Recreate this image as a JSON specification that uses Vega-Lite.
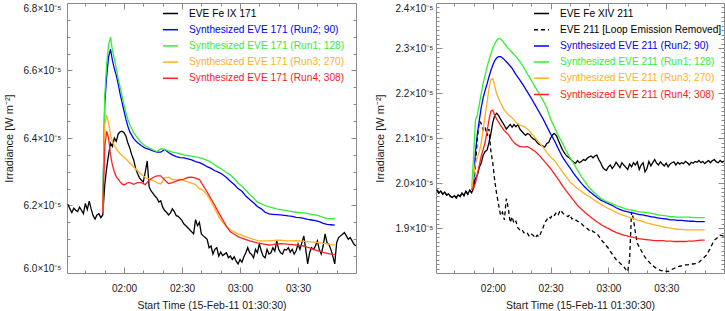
{
"$schema": "https://vega.github.io/schema/vega-lite/v6.json",
"padding": {"left": 3, "top": 2, "right": 2, "bottom": 2},
"spacing": 15,
"config": {
 "font": "Liberation Sans",
 "view": {"stroke": null},
 "axis": {"grid": false, "domainColor": "#8a8a8a", "tickColor": "#8a8a8a", "labelColor": "#1a1a1a", "titleColor": "#1a1a1a", "labelFontSize": 10, "titleFontSize": 10.5, "titleFontWeight": "normal", "labelFont": "Liberation Sans", "titleFont": "Liberation Sans"}
},
"hconcat": [
{
 "width": 289, "height": 270,
 "data": {"format": {"parse": {"t": "date:'%H:%M'"}}, "values": [
{"t":"01:31","obs":6.204e-5},
{"t":"01:32","obs":6.19e-5},
{"t":"01:33","obs":6.179e-5},
{"t":"01:34","obs":6.192e-5},
{"t":"01:35","obs":6.186e-5},
{"t":"01:36","obs":6.182e-5},
{"t":"01:37","obs":6.195e-5},
{"t":"01:38","obs":6.186e-5},
{"t":"01:39","obs":6.176e-5},
{"t":"01:40","obs":6.206e-5},
{"t":"01:41","obs":6.188e-5},
{"t":"01:42","obs":6.213e-5},
{"t":"01:43","obs":6.19e-5},
{"t":"01:44","obs":6.17e-5},
{"t":"01:45","obs":6.16e-5},
{"t":"01:46","obs":6.172e-5},
{"t":"01:47","obs":6.176e-5},
{"t":"01:48","obs":6.164e-5},
{"t":"01:49","obs":6.172e-5,"run2":6.18e-5,"run1":6.18e-5,"run3":6.18e-5,"run4":6.18e-5},
{"t":"01:50","obs":6.26e-5,"run2":6.5e-5,"run1":6.52e-5,"run3":6.44e-5,"run4":6.37e-5},
{"t":"01:51","obs":6.31e-5,"run2":6.58e-5,"run1":6.62e-5,"run3":6.468e-5,"run4":6.42e-5},
{"t":"01:52","obs":6.35e-5,"run2":6.64e-5,"run1":6.675e-5,"run3":6.445e-5,"run4":6.4e-5},
{"t":"01:53","obs":6.385e-5,"run2":6.663e-5,"run1":6.699e-5,"run3":6.41e-5,"run4":6.35e-5},
{"t":"01:54","obs":6.375e-5,"run2":6.63e-5,"run1":6.66e-5,"run3":6.39e-5,"run4":6.32e-5},
{"t":"01:55","obs":6.4e-5,"run2":6.605e-5,"run1":6.635e-5,"run3":6.377e-5,"run4":6.3e-5},
{"t":"01:56","obs":6.39e-5,"run2":6.585e-5,"run1":6.605e-5,"run3":6.368e-5,"run4":6.285e-5},
{"t":"01:57","obs":6.412e-5,"run2":6.56e-5,"run1":6.575e-5,"run3":6.36e-5,"run4":6.278e-5},
{"t":"01:58","obs":6.418e-5,"run2":6.53e-5,"run1":6.55e-5,"run3":6.354e-5,"run4":6.27e-5},
{"t":"01:59","obs":6.42e-5,"run2":6.505e-5,"run1":6.525e-5,"run3":6.348e-5,"run4":6.264e-5},
{"t":"02:00","obs":6.416e-5,"run2":6.48e-5,"run1":6.498e-5,"run3":6.343e-5,"run4":6.261e-5},
{"t":"02:01","obs":6.405e-5,"run2":6.455e-5,"run1":6.475e-5,"run3":6.338e-5,"run4":6.264e-5},
{"t":"02:02","obs":6.385e-5,"run2":6.435e-5,"run1":6.455e-5,"run3":6.332e-5,"run4":6.268e-5},
{"t":"02:03","obs":6.37e-5,"run2":6.418e-5,"run1":6.44e-5,"run3":6.326e-5,"run4":6.268e-5},
{"t":"02:04","obs":6.35e-5},
{"t":"02:05","obs":6.335e-5,"run2":6.398e-5,"run1":6.415e-5,"run3":6.314e-5,"run4":6.263e-5},
{"t":"02:06","obs":6.31e-5},
{"t":"02:07","obs":6.295e-5,"run2":6.386e-5,"run1":6.4e-5,"run3":6.303e-5,"run4":6.268e-5},
{"t":"02:08","obs":6.282e-5},
{"t":"02:09","obs":6.275e-5,"run2":6.377e-5,"run1":6.385e-5,"run3":6.292e-5,"run4":6.268e-5},
{"t":"02:10","obs":6.27e-5},
{"t":"02:11","obs":6.3e-5,"run2":6.37e-5,"run1":6.377e-5,"run3":6.283e-5,"run4":6.262e-5},
{"t":"02:12","obs":6.332e-5},
{"t":"02:13","obs":6.255e-5,"run2":6.366e-5,"run1":6.371e-5,"run3":6.278e-5,"run4":6.275e-5},
{"t":"02:14","obs":6.243e-5},
{"t":"02:15","obs":6.236e-5,"run2":6.362e-5,"run1":6.365e-5,"run3":6.274e-5,"run4":6.283e-5},
{"t":"02:16","obs":6.228e-5},
{"t":"02:17","obs":6.222e-5,"run2":6.358e-5,"run1":6.36e-5,"run3":6.268e-5,"run4":6.288e-5},
{"t":"02:18","obs":6.21e-5},
{"t":"02:19","obs":6.214e-5,"run2":6.358e-5,"run1":6.368e-5,"run3":6.264e-5,"run4":6.288e-5},
{"t":"02:20","obs":6.195e-5},
{"t":"02:21","obs":6.185e-5,"run2":6.366e-5,"run1":6.366e-5,"run3":6.282e-5,"run4":6.276e-5},
{"t":"02:22","obs":6.18e-5},
{"t":"02:23","obs":6.172e-5,"run2":6.357e-5,"run1":6.362e-5,"run3":6.284e-5,"run4":6.265e-5},
{"t":"02:24","obs":6.178e-5},
{"t":"02:25","obs":6.19e-5,"run2":6.35e-5,"run1":6.358e-5,"run3":6.277e-5,"run4":6.268e-5},
{"t":"02:26","obs":6.182e-5},
{"t":"02:27","obs":6.17e-5,"run2":6.345e-5,"run1":6.356e-5,"run3":6.276e-5,"run4":6.272e-5},
{"t":"02:28","obs":6.168e-5},
{"t":"02:29","obs":6.162e-5,"run2":6.342e-5,"run1":6.353e-5,"run3":6.278e-5,"run4":6.276e-5},
{"t":"02:30","obs":6.155e-5},
{"t":"02:31","obs":6.145e-5,"run2":6.341e-5,"run1":6.35e-5,"run3":6.274e-5,"run4":6.278e-5},
{"t":"02:32","obs":6.14e-5},
{"t":"02:33","obs":6.134e-5,"run2":6.338e-5,"run1":6.348e-5,"run3":6.27e-5,"run4":6.283e-5},
{"t":"02:34","obs":6.128e-5},
{"t":"02:35","obs":6.122e-5,"run2":6.335e-5,"run1":6.346e-5,"run3":6.266e-5,"run4":6.284e-5},
{"t":"02:36","obs":6.116e-5},
{"t":"02:37","obs":6.158e-5,"run2":6.33e-5,"run1":6.344e-5,"run3":6.262e-5,"run4":6.281e-5},
{"t":"02:38","obs":6.14e-5},
{"t":"02:39","obs":6.15e-5,"run2":6.327e-5,"run1":6.342e-5,"run3":6.25e-5,"run4":6.277e-5},
{"t":"02:40","obs":6.116e-5},
{"t":"02:41","obs":6.11e-5,"run2":6.322e-5,"run1":6.338e-5,"run3":6.245e-5,"run4":6.258e-5},
{"t":"02:42","obs":6.105e-5},
{"t":"02:43","obs":6.1e-5,"run2":6.315e-5,"run1":6.334e-5,"run3":6.232e-5,"run4":6.24e-5},
{"t":"02:44","obs":6.075e-5},
{"t":"02:45","obs":6.08e-5,"run2":6.31e-5,"run1":6.328e-5,"run3":6.212e-5,"run4":6.22e-5},
{"t":"02:46","obs":6.056e-5},
{"t":"02:47","obs":6.07e-5,"run2":6.303e-5,"run1":6.32e-5,"run3":6.19e-5,"run4":6.2e-5},
{"t":"02:48","obs":6.075e-5},
{"t":"02:49","obs":6.05e-5,"run2":6.298e-5,"run1":6.313e-5,"run3":6.167e-5,"run4":6.178e-5},
{"t":"02:50","obs":6.062e-5},
{"t":"02:51","obs":6.052e-5,"run2":6.292e-5,"run1":6.306e-5,"run3":6.15e-5,"run4":6.158e-5},
{"t":"02:52","obs":6.056e-5},
{"t":"02:53","obs":6.06e-5,"run2":6.283e-5,"run1":6.298e-5,"run3":6.138e-5,"run4":6.138e-5},
{"t":"02:54","obs":6.045e-5},
{"t":"02:55","obs":6.05e-5,"run2":6.272e-5,"run1":6.29e-5,"run3":6.128e-5,"run4":6.122e-5},
{"t":"02:56","obs":6.04e-5},
{"t":"02:57","obs":6.048e-5,"run2":6.262e-5,"run1":6.28e-5,"run3":6.122e-5,"run4":6.115e-5},
{"t":"02:58","obs":6.035e-5},
{"t":"02:59","obs":6.027e-5,"run2":6.25e-5,"run1":6.266e-5,"run3":6.116e-5,"run4":6.108e-5},
{"t":"03:00","obs":6.04e-5},
{"t":"03:01","obs":6.032e-5,"run2":6.242e-5,"run1":6.257e-5,"run3":6.112e-5,"run4":6.103e-5},
{"t":"03:02","obs":6.048e-5},
{"t":"03:03","obs":6.06e-5,"run2":6.228e-5,"run1":6.245e-5,"run3":6.107e-5,"run4":6.099e-5},
{"t":"03:04","obs":6.075e-5},
{"t":"03:05","obs":6.06e-5,"run2":6.218e-5,"run1":6.233e-5,"run3":6.103e-5,"run4":6.095e-5},
{"t":"03:06","obs":6.055e-5},
{"t":"03:07","obs":6.045e-5,"run2":6.208e-5,"run1":6.222e-5,"run3":6.1e-5,"run4":6.092e-5},
{"t":"03:08","obs":6.07e-5},
{"t":"03:09","obs":6.06e-5,"run2":6.197e-5,"run1":6.21e-5,"run3":6.096e-5,"run4":6.089e-5},
{"t":"03:10","obs":6.086e-5},
{"t":"03:11","obs":6.065e-5,"run2":6.19e-5,"run1":6.205e-5,"run3":6.095e-5,"run4":6.087e-5},
{"t":"03:12","obs":6.05e-5},
{"t":"03:13","obs":6.045e-5,"run2":6.18e-5,"run1":6.2e-5,"run3":6.095e-5,"run4":6.085e-5},
{"t":"03:14","obs":6.07e-5},
{"t":"03:15","obs":6.056e-5,"run2":6.175e-5,"run1":6.196e-5,"run3":6.095e-5,"run4":6.083e-5},
{"t":"03:16","obs":6.06e-5},
{"t":"03:17","obs":6.075e-5,"run2":6.174e-5,"run1":6.193e-5,"run3":6.096e-5,"run4":6.084e-5},
{"t":"03:18","obs":6.065e-5},
{"t":"03:19","obs":6.095e-5,"run2":6.173e-5,"run1":6.19e-5,"run3":6.097e-5,"run4":6.086e-5},
{"t":"03:20","obs":6.07e-5},
{"t":"03:21","obs":6.06e-5,"run2":6.172e-5,"run1":6.188e-5,"run3":6.097e-5,"run4":6.087e-5},
{"t":"03:22","obs":6.056e-5},
{"t":"03:23","obs":6.07e-5,"run2":6.171e-5,"run1":6.186e-5,"run3":6.096e-5,"run4":6.086e-5},
{"t":"03:24","obs":6.068e-5},
{"t":"03:25","obs":6.075e-5,"run2":6.169e-5,"run1":6.184e-5,"run3":6.095e-5,"run4":6.085e-5},
{"t":"03:26","obs":6.062e-5},
{"t":"03:27","obs":6.07e-5,"run2":6.168e-5,"run1":6.182e-5,"run3":6.095e-5,"run4":6.084e-5},
{"t":"03:28","obs":6.056e-5},
{"t":"03:29","obs":6.065e-5,"run2":6.165e-5,"run1":6.18e-5,"run3":6.096e-5,"run4":6.083e-5},
{"t":"03:30","obs":6.086e-5},
{"t":"03:31","obs":6.07e-5,"run2":6.164e-5,"run1":6.179e-5,"run3":6.095e-5,"run4":6.082e-5},
{"t":"03:32","obs":6.09e-5},
{"t":"03:33","obs":6.11e-5,"run2":6.162e-5,"run1":6.178e-5,"run3":6.094e-5,"run4":6.08e-5},
{"t":"03:34","obs":6.07e-5},
{"t":"03:35","obs":6.027e-5,"run2":6.159e-5,"run1":6.176e-5,"run3":6.093e-5,"run4":6.076e-5},
{"t":"03:36","obs":6.06e-5},
{"t":"03:37","obs":6.075e-5,"run2":6.157e-5,"run1":6.174e-5,"run3":6.092e-5,"run4":6.073e-5},
{"t":"03:38","obs":6.07e-5},
{"t":"03:39","obs":6.08e-5,"run2":6.155e-5,"run1":6.172e-5,"run3":6.091e-5,"run4":6.068e-5},
{"t":"03:40","obs":6.095e-5},
{"t":"03:41","obs":6.07e-5,"run2":6.152e-5,"run1":6.169e-5,"run3":6.09e-5,"run4":6.065e-5},
{"t":"03:42","obs":6.056e-5},
{"t":"03:43","obs":6.08e-5,"run2":6.147e-5,"run1":6.165e-5,"run3":6.088e-5,"run4":6.061e-5},
{"t":"03:44","obs":6.116e-5},
{"t":"03:45","obs":6.09e-5,"run2":6.144e-5,"run1":6.162e-5,"run3":6.086e-5,"run4":6.058e-5},
{"t":"03:46","obs":6.085e-5},
{"t":"03:47","obs":6.07e-5,"run2":6.143e-5,"run1":6.161e-5,"run3":6.084e-5,"run4":6.056e-5},
{"t":"03:48","obs":6.05e-5},
{"t":"03:49","obs":6.027e-5,"run2":6.142e-5,"run1":6.161e-5,"run3":6.083e-5,"run4":6.055e-5},
{"t":"03:50","obs":6.09e-5},
{"t":"03:51","obs":6.105e-5},
{"t":"03:52","obs":6.11e-5},
{"t":"03:53","obs":6.115e-5},
{"t":"03:54","obs":6.12e-5},
{"t":"03:55","obs":6.11e-5},
{"t":"03:56","obs":6.1e-5},
{"t":"03:57","obs":6.105e-5},
{"t":"03:58","obs":6.095e-5},
{"t":"03:59","obs":6.085e-5},
{"t":"04:00","obs":6.08e-5}
 ]},
 "transform": [{"fold": ["obs", "run2", "run1", "run3", "run4"], "as": ["series", "v"]}, {"filter": {"field": "v", "valid": true}}],
 "layer": [
  {"mark": {"type": "line", "strokeWidth": 1.3, "clip": true},
   "encoding": {
    "x": {"field": "t", "type": "temporal", "scale": {"domain": [{"year":1900,"month":1,"date":1,"hours":1,"minutes":30,"seconds":30},{"year":1900,"month":1,"date":1,"hours":4,"minutes":0}], "nice": false},
      "axis": {"orient": "bottom", "values": [{"year":1900,"month":1,"date":1,"hours":2,"minutes":0},{"year":1900,"month":1,"date":1,"hours":2,"minutes":30},{"year":1900,"month":1,"date":1,"hours":3,"minutes":0},{"year":1900,"month":1,"date":1,"hours":3,"minutes":30}], "format": "%H:%M", "ticks": false, "labelPadding": 10, "title": "Start Time (15-Feb-11 01:30:30)", "titlePadding": 7}},
    "y": {"field": "v", "type": "quantitative", "scale": {"domain": [6.0e-5, 6.8e-5], "nice": false, "zero": false},
      "axis": {"orient": "left", "values": [6.0e-5, 6.2e-5, 6.4e-5, 6.6e-5, 6.8e-5], "labelExpr": "format(datum.value*100000, '.1f') + '×10⁻⁵'", "ticks": false, "labelPadding": 6, "labelFlush": true, "title": "Irradiance [W m⁻²]", "titleFontSize": 11, "titlePadding": 8}},
    "color": {"field": "series", "type": "nominal",
      "scale": {"domain": ["obs", "run2", "run1", "run3", "run4"], "range": ["#000000", "#0000ff", "#33ee33", "#ffb020", "#ff2020"]},
      "legend": {"orient": "none", "legendX": 95, "legendY": 2, "title": null, "symbolType": "stroke", "symbolSize": 225, "symbolStrokeWidth": 1.5, "labelFontSize": 10.2, "labelOffset": 10, "rowPadding": 2.2, "padding": 0, "labelLimit": 300,
        "labelExpr": "datum.value == 'obs' ? 'EVE Fe IX 171' : datum.value == 'run2' ? 'Synthesized EVE 171 (Run2; 90)' : datum.value == 'run1' ? 'Synthesized EVE 171 (Run1; 128)' : datum.value == 'run3' ? 'Synthesized EVE 171 (Run3; 270)' : 'Synthesized EVE 171 (Run4; 308)'",
        "labelColor": {"expr": "datum.value == 'run2' ? '#0000ff' : datum.value == 'run1' ? '#33ee33' : datum.value == 'run3' ? '#ffb020' : datum.value == 'run4' ? '#ff2020' : '#000000'"}}}
   }},
  {"mark": {"type": "point", "opacity": 0},
   "encoding": {
    "x": {"field": "t", "type": "temporal", "scale": {"domain": [{"year":1900,"month":1,"date":1,"hours":1,"minutes":30,"seconds":30},{"year":1900,"month":1,"date":1,"hours":4,"minutes":0}], "nice": false},
      "axis": {"orient": "bottom", "values": [{"year":1900,"month":1,"date":1,"hours":2,"minutes":0},{"year":1900,"month":1,"date":1,"hours":2,"minutes":30},{"year":1900,"month":1,"date":1,"hours":3,"minutes":0},{"year":1900,"month":1,"date":1,"hours":3,"minutes":30}], "labels": false, "domain": false, "tickSize": -6, "title": null}},
    "y": {"field": "v", "type": "quantitative", "scale": {"domain": [6.0e-5, 6.8e-5], "nice": false, "zero": false},
      "axis": {"orient": "left", "values": [6.2e-5, 6.4e-5, 6.6e-5], "labels": false, "domain": false, "tickSize": -5, "title": null}}
   }},
  {"mark": {"type": "point", "opacity": 0},
   "encoding": {
    "x": {"field": "t", "type": "temporal", "scale": {"domain": [{"year":1900,"month":1,"date":1,"hours":1,"minutes":30,"seconds":30},{"year":1900,"month":1,"date":1,"hours":4,"minutes":0}], "nice": false},
      "axis": {"orient": "bottom", "values": [{"year":1900,"month":1,"date":1,"hours":1,"minutes":40},{"year":1900,"month":1,"date":1,"hours":1,"minutes":50},{"year":1900,"month":1,"date":1,"hours":2,"minutes":10},{"year":1900,"month":1,"date":1,"hours":2,"minutes":20},{"year":1900,"month":1,"date":1,"hours":2,"minutes":40},{"year":1900,"month":1,"date":1,"hours":2,"minutes":50},{"year":1900,"month":1,"date":1,"hours":3,"minutes":10},{"year":1900,"month":1,"date":1,"hours":3,"minutes":20},{"year":1900,"month":1,"date":1,"hours":3,"minutes":40},{"year":1900,"month":1,"date":1,"hours":3,"minutes":50}], "labels": false, "domain": false, "tickSize": -3, "title": null}},
    "y": {"field": "v", "type": "quantitative", "scale": {"domain": [6.0e-5, 6.8e-5], "nice": false, "zero": false},
      "axis": {"orient": "left", "values": [6.05e-5, 6.1e-5, 6.15e-5, 6.25e-5, 6.3e-5, 6.35e-5, 6.45e-5, 6.5e-5, 6.55e-5, 6.65e-5, 6.7e-5, 6.75e-5], "labels": false, "domain": false, "tickSize": -3, "title": null}}
   }},
  {"mark": {"type": "point", "opacity": 0},
   "encoding": {
    "x": {"field": "t", "type": "temporal", "scale": {"domain": [{"year":1900,"month":1,"date":1,"hours":1,"minutes":30,"seconds":30},{"year":1900,"month":1,"date":1,"hours":4,"minutes":0}], "nice": false},
      "axis": {"orient": "top", "values": [{"year":1900,"month":1,"date":1,"hours":2,"minutes":0},{"year":1900,"month":1,"date":1,"hours":2,"minutes":30},{"year":1900,"month":1,"date":1,"hours":3,"minutes":0},{"year":1900,"month":1,"date":1,"hours":3,"minutes":30}], "labels": false, "domain": true, "tickSize": -6, "title": null}},
    "y": {"field": "v", "type": "quantitative", "scale": {"domain": [6.0e-5, 6.8e-5], "nice": false, "zero": false},
      "axis": {"orient": "right", "values": [6.2e-5, 6.4e-5, 6.6e-5], "labels": false, "domain": true, "tickSize": -5, "title": null}}
   }},
  {"mark": {"type": "point", "opacity": 0},
   "encoding": {
    "x": {"field": "t", "type": "temporal", "scale": {"domain": [{"year":1900,"month":1,"date":1,"hours":1,"minutes":30,"seconds":30},{"year":1900,"month":1,"date":1,"hours":4,"minutes":0}], "nice": false},
      "axis": {"orient": "top", "values": [{"year":1900,"month":1,"date":1,"hours":1,"minutes":40},{"year":1900,"month":1,"date":1,"hours":1,"minutes":50},{"year":1900,"month":1,"date":1,"hours":2,"minutes":10},{"year":1900,"month":1,"date":1,"hours":2,"minutes":20},{"year":1900,"month":1,"date":1,"hours":2,"minutes":40},{"year":1900,"month":1,"date":1,"hours":2,"minutes":50},{"year":1900,"month":1,"date":1,"hours":3,"minutes":10},{"year":1900,"month":1,"date":1,"hours":3,"minutes":20},{"year":1900,"month":1,"date":1,"hours":3,"minutes":40},{"year":1900,"month":1,"date":1,"hours":3,"minutes":50}], "labels": false, "domain": false, "tickSize": -3, "title": null}},
    "y": {"field": "v", "type": "quantitative", "scale": {"domain": [6.0e-5, 6.8e-5], "nice": false, "zero": false},
      "axis": {"orient": "right", "values": [6.05e-5, 6.1e-5, 6.15e-5, 6.25e-5, 6.3e-5, 6.35e-5, 6.45e-5, 6.5e-5, 6.55e-5, 6.65e-5, 6.7e-5, 6.75e-5], "labels": false, "domain": false, "tickSize": -3, "title": null}}
   }}
 ],
 "resolve": {"axis": {"x": "independent", "y": "independent"}}
},
{
 "width": 288, "height": 270,
 "data": {"format": {"parse": {"t": "date:'%H:%M'"}}, "values": [
{"t":"01:31","obs":1.985e-5,"loop":1.985e-5},
{"t":"01:32","obs":1.978e-5,"loop":1.978e-5},
{"t":"01:33","obs":1.982e-5,"loop":1.982e-5},
{"t":"01:34","obs":1.975e-5,"loop":1.975e-5},
{"t":"01:35","obs":1.98e-5,"loop":1.98e-5},
{"t":"01:36","obs":1.973e-5,"loop":1.973e-5},
{"t":"01:37","obs":1.976e-5,"loop":1.976e-5},
{"t":"01:38","obs":1.97e-5,"loop":1.97e-5},
{"t":"01:39","obs":1.968e-5,"loop":1.968e-5},
{"t":"01:40","obs":1.972e-5,"loop":1.972e-5},
{"t":"01:41","obs":1.967e-5,"loop":1.967e-5},
{"t":"01:42","obs":1.974e-5,"loop":1.974e-5},
{"t":"01:43","obs":1.97e-5,"loop":1.97e-5},
{"t":"01:44","obs":1.978e-5,"loop":1.978e-5},
{"t":"01:45","obs":1.972e-5,"loop":1.972e-5},
{"t":"01:46","obs":1.982e-5,"loop":1.982e-5},
{"t":"01:47","obs":1.975e-5,"loop":1.975e-5},
{"t":"01:48","obs":1.984e-5,"loop":1.984e-5},
{"t":"01:49","obs":1.978e-5,"loop":1.978e-5,"run2":1.985e-5,"run1":1.985e-5,"run3":1.985e-5,"run4":1.985e-5},
{"t":"01:50","obs":1.99e-5,"loop":1.99e-5,"run2":2.0e-5,"run1":2.06e-5,"run3":2.015e-5,"run4":1.99e-5},
{"t":"01:51","obs":2.01e-5,"loop":2.04e-5,"run2":2.07e-5,"run1":2.14e-5,"run3":2.045e-5,"run4":2.0e-5},
{"t":"01:52","obs":2.018e-5,"loop":2.1e-5,"run2":2.11e-5,"run1":2.152e-5,"run3":2.058e-5,"run4":2.02e-5},
{"t":"01:53","obs":2.035e-5,"loop":2.138e-5,"run2":2.14e-5,"run1":2.175e-5,"run3":2.07e-5,"run4":2.04e-5},
{"t":"01:54","obs":2.045e-5,"loop":2.132e-5,"run2":2.168e-5,"run1":2.2e-5,"run3":2.09e-5,"run4":2.06e-5},
{"t":"01:55","obs":2.062e-5,"loop":2.118e-5,"run2":2.19e-5,"run1":2.222e-5,"run3":2.12e-5,"run4":2.075e-5},
{"t":"01:56","obs":2.07e-5,"loop":2.125e-5,"run2":2.206e-5,"run1":2.24e-5,"run3":2.15e-5,"run4":2.09e-5},
{"t":"01:57","obs":2.073e-5,"loop":2.105e-5,"run2":2.22e-5,"run1":2.258e-5,"run3":2.178e-5,"run4":2.115e-5},
{"t":"01:58","obs":2.09e-5,"loop":2.12e-5,"run2":2.236e-5,"run1":2.273e-5,"run3":2.21e-5,"run4":2.14e-5},
{"t":"01:59","obs":2.11e-5,"loop":2.07e-5,"run2":2.25e-5,"run1":2.287e-5,"run3":2.23e-5,"run4":2.16e-5},
{"t":"02:00","obs":2.135e-5,"loop":2.044e-5,"run2":2.262e-5,"run1":2.3e-5,"run3":2.232e-5,"run4":2.162e-5},
{"t":"02:01","obs":2.15e-5,"loop":2.005e-5,"run2":2.272e-5,"run1":2.309e-5,"run3":2.215e-5,"run4":2.15e-5},
{"t":"02:02","obs":2.155e-5,"loop":1.975e-5,"run2":2.278e-5,"run1":2.317e-5,"run3":2.198e-5,"run4":2.142e-5},
{"t":"02:03","obs":2.15e-5,"loop":1.952e-5,"run2":2.281e-5,"run1":2.321e-5,"run3":2.188e-5,"run4":2.135e-5},
{"t":"02:04","obs":2.142e-5,"loop":1.928e-5,"run2":2.281e-5,"run1":2.32e-5,"run3":2.178e-5,"run4":2.128e-5},
{"t":"02:05","obs":2.135e-5,"loop":1.935e-5,"run2":2.278e-5,"run1":2.316e-5,"run3":2.17e-5,"run4":2.122e-5},
{"t":"02:06","obs":2.128e-5,"loop":1.918e-5,"run2":2.274e-5,"run1":2.31e-5,"run3":2.162e-5,"run4":2.116e-5},
{"t":"02:07","obs":2.12e-5,"loop":1.965e-5},
{"t":"02:08","obs":2.125e-5,"loop":1.945e-5,"run2":2.265e-5,"run1":2.299e-5,"run3":2.152e-5,"run4":2.108e-5},
{"t":"02:09","obs":2.13e-5,"loop":1.912e-5},
{"t":"02:10","obs":2.124e-5,"loop":1.925e-5,"run2":2.255e-5,"run1":2.29e-5,"run3":2.145e-5,"run4":2.095e-5},
{"t":"02:11","obs":2.13e-5,"loop":1.91e-5},
{"t":"02:12","obs":2.125e-5,"loop":1.915e-5,"run2":2.241e-5,"run1":2.281e-5,"run3":2.135e-5,"run4":2.086e-5},
{"t":"02:13","obs":2.13e-5,"loop":1.9e-5},
{"t":"02:14","obs":2.12e-5,"loop":1.896e-5,"run2":2.229e-5,"run1":2.27e-5,"run3":2.128e-5,"run4":2.081e-5},
{"t":"02:15","obs":2.115e-5,"loop":1.898e-5},
{"t":"02:16","obs":2.11e-5,"loop":1.89e-5,"run2":2.216e-5,"run1":2.257e-5,"run3":2.126e-5,"run4":2.08e-5},
{"t":"02:17","obs":2.106e-5,"loop":1.886e-5},
{"t":"02:18","obs":2.11e-5,"loop":1.888e-5,"run2":2.202e-5,"run1":2.242e-5,"run3":2.12e-5,"run4":2.081e-5},
{"t":"02:19","obs":2.108e-5,"loop":1.881e-5},
{"t":"02:20","obs":2.102e-5,"loop":1.886e-5,"run2":2.188e-5,"run1":2.228e-5,"run3":2.11e-5,"run4":2.076e-5},
{"t":"02:21","obs":2.098e-5,"loop":1.884e-5},
{"t":"02:22","obs":2.096e-5,"loop":1.878e-5,"run2":2.173e-5,"run1":2.213e-5,"run3":2.1e-5,"run4":2.07e-5},
{"t":"02:23","obs":2.09e-5,"loop":1.884e-5},
{"t":"02:24","obs":2.086e-5,"loop":1.88e-5,"run2":2.158e-5,"run1":2.199e-5,"run3":2.09e-5,"run4":2.062e-5},
{"t":"02:25","obs":2.084e-5,"loop":1.89e-5},
{"t":"02:26","obs":2.082e-5,"loop":1.9e-5,"run2":2.143e-5,"run1":2.184e-5,"run3":2.08e-5,"run4":2.052e-5},
{"t":"02:27","obs":2.08e-5,"loop":1.912e-5},
{"t":"02:28","obs":2.088e-5,"loop":1.918e-5,"run2":2.126e-5,"run1":2.167e-5,"run3":2.068e-5,"run4":2.042e-5},
{"t":"02:29","obs":2.09e-5,"loop":1.925e-5},
{"t":"02:30","obs":2.1e-5,"loop":1.922e-5,"run2":2.109e-5,"run1":2.142e-5,"run3":2.058e-5,"run4":2.032e-5},
{"t":"02:31","obs":2.107e-5,"loop":1.93e-5},
{"t":"02:32","obs":2.11e-5,"loop":1.928e-5,"run2":2.094e-5,"run1":2.124e-5,"run3":2.05e-5,"run4":2.02e-5},
{"t":"02:33","obs":2.105e-5,"loop":1.935e-5},
{"t":"02:34","obs":2.095e-5,"loop":1.93e-5,"run2":2.076e-5,"run1":2.105e-5,"run3":2.038e-5,"run4":2.008e-5},
{"t":"02:35","obs":2.085e-5,"loop":1.94e-5},
{"t":"02:36","obs":2.075e-5,"loop":1.935e-5,"run2":2.059e-5,"run1":2.09e-5,"run3":2.026e-5,"run4":1.995e-5},
{"t":"02:37","obs":2.068e-5,"loop":1.93e-5},
{"t":"02:38","obs":2.062e-5,"loop":1.928e-5,"run2":2.046e-5,"run1":2.072e-5,"run3":2.014e-5,"run4":1.983e-5},
{"t":"02:39","obs":2.058e-5,"loop":1.925e-5},
{"t":"02:40","obs":2.055e-5,"loop":1.93e-5,"run2":2.034e-5,"run1":2.057e-5,"run3":2.003e-5,"run4":1.972e-5},
{"t":"02:41","obs":2.05e-5,"loop":1.92e-5},
{"t":"02:42","obs":2.046e-5,"loop":1.922e-5,"run2":2.021e-5,"run1":2.043e-5,"run3":1.995e-5,"run4":1.961e-5},
{"t":"02:43","obs":2.044e-5,"loop":1.918e-5},
{"t":"02:44","obs":2.05e-5,"loop":1.915e-5,"run2":2.01e-5,"run1":2.028e-5,"run3":1.988e-5,"run4":1.95e-5},
{"t":"02:45","obs":2.045e-5,"loop":1.912e-5},
{"t":"02:46","obs":2.048e-5,"loop":1.91e-5,"run2":1.999e-5,"run1":2.014e-5,"run3":1.981e-5,"run4":1.942e-5},
{"t":"02:47","obs":2.052e-5,"loop":1.905e-5},
{"t":"02:48","obs":2.05e-5,"loop":1.902e-5,"run2":1.99e-5,"run1":2.002e-5,"run3":1.975e-5,"run4":1.934e-5},
{"t":"02:49","obs":2.055e-5,"loop":1.899e-5},
{"t":"02:50","obs":2.058e-5,"loop":1.895e-5,"run2":1.982e-5,"run1":1.99e-5,"run3":1.97e-5,"run4":1.927e-5},
{"t":"02:51","obs":2.06e-5,"loop":1.897e-5},
{"t":"02:52","obs":2.056e-5,"loop":1.892e-5,"run2":1.975e-5,"run1":1.981e-5,"run3":1.964e-5,"run4":1.92e-5},
{"t":"02:53","obs":2.06e-5,"loop":1.89e-5},
{"t":"02:54","obs":2.062e-5,"loop":1.888e-5,"run2":1.968e-5,"run1":1.973e-5,"run3":1.958e-5,"run4":1.914e-5},
{"t":"02:55","obs":2.052e-5,"loop":1.882e-5},
{"t":"02:56","obs":2.045e-5,"loop":1.876e-5,"run2":1.962e-5,"run1":1.966e-5,"run3":1.953e-5,"run4":1.908e-5},
{"t":"02:57","obs":2.035e-5,"loop":1.87e-5},
{"t":"02:58","obs":2.03e-5,"loop":1.866e-5,"run2":1.958e-5,"run1":1.961e-5,"run3":1.948e-5,"run4":1.903e-5},
{"t":"02:59","obs":2.028e-5,"loop":1.86e-5},
{"t":"03:00","obs":2.036e-5,"loop":1.855e-5,"run2":1.954e-5,"run1":1.957e-5,"run3":1.943e-5,"run4":1.899e-5},
{"t":"03:01","obs":2.04e-5,"loop":1.848e-5},
{"t":"03:02","obs":2.032e-5,"loop":1.842e-5,"run2":1.95e-5,"run1":1.954e-5,"run3":1.939e-5,"run4":1.894e-5},
{"t":"03:03","obs":2.038e-5,"loop":1.836e-5},
{"t":"03:04","obs":2.046e-5,"loop":1.83e-5,"run2":1.945e-5,"run1":1.95e-5,"run3":1.935e-5,"run4":1.89e-5},
{"t":"03:05","obs":2.04e-5,"loop":1.826e-5},
{"t":"03:06","obs":2.034e-5,"loop":1.822e-5,"run2":1.941e-5,"run1":1.947e-5,"run3":1.931e-5,"run4":1.887e-5},
{"t":"03:07","obs":2.045e-5,"loop":1.818e-5},
{"t":"03:08","obs":2.04e-5,"loop":1.814e-5,"run2":1.938e-5,"run1":1.944e-5,"run3":1.928e-5,"run4":1.884e-5},
{"t":"03:09","obs":2.035e-5,"loop":1.808e-5},
{"t":"03:10","obs":2.03e-5,"loop":1.803e-5,"run2":1.936e-5,"run1":1.941e-5,"run3":1.925e-5,"run4":1.882e-5},
{"t":"03:11","obs":2.042e-5,"loop":1.83e-5},
{"t":"03:12","obs":2.036e-5,"loop":1.936e-5,"run2":1.934e-5,"run1":1.94e-5,"run3":1.922e-5,"run4":1.88e-5},
{"t":"03:13","obs":2.045e-5,"loop":1.92e-5},
{"t":"03:14","obs":2.04e-5,"loop":1.89e-5,"run2":1.932e-5,"run1":1.938e-5,"run3":1.919e-5,"run4":1.878e-5},
{"t":"03:15","obs":2.047e-5,"loop":1.866e-5},
{"t":"03:16","obs":2.03e-5,"loop":1.858e-5,"run2":1.93e-5,"run1":1.936e-5,"run3":1.917e-5,"run4":1.876e-5},
{"t":"03:17","obs":2.04e-5,"loop":1.85e-5},
{"t":"03:18","obs":2.045e-5,"loop":1.842e-5,"run2":1.929e-5,"run1":1.935e-5,"run3":1.914e-5,"run4":1.875e-5},
{"t":"03:19","obs":2.025e-5,"loop":1.835e-5},
{"t":"03:20","obs":2.032e-5,"loop":1.829e-5,"run2":1.927e-5,"run1":1.934e-5,"run3":1.911e-5,"run4":1.874e-5},
{"t":"03:21","obs":2.048e-5,"loop":1.825e-5},
{"t":"03:22","obs":2.038e-5,"loop":1.82e-5,"run2":1.925e-5,"run1":1.933e-5,"run3":1.909e-5,"run4":1.873e-5},
{"t":"03:23","obs":2.045e-5,"loop":1.817e-5},
{"t":"03:24","obs":2.052e-5,"loop":1.813e-5,"run2":1.924e-5,"run1":1.931e-5,"run3":1.907e-5,"run4":1.872e-5},
{"t":"03:25","obs":2.044e-5,"loop":1.81e-5},
{"t":"03:26","obs":2.04e-5,"loop":1.808e-5,"run2":1.922e-5,"run1":1.929e-5,"run3":1.905e-5,"run4":1.872e-5},
{"t":"03:27","obs":2.047e-5,"loop":1.806e-5},
{"t":"03:28","obs":2.042e-5,"loop":1.805e-5,"run2":1.921e-5,"run1":1.928e-5,"run3":1.903e-5,"run4":1.872e-5},
{"t":"03:29","obs":2.038e-5,"loop":1.803e-5},
{"t":"03:30","obs":2.044e-5,"loop":1.804e-5,"run2":1.92e-5,"run1":1.927e-5,"run3":1.901e-5,"run4":1.871e-5},
{"t":"03:31","obs":2.036e-5,"loop":1.803e-5},
{"t":"03:32","obs":2.042e-5,"loop":1.806e-5,"run2":1.918e-5,"run1":1.925e-5,"run3":1.9e-5,"run4":1.871e-5},
{"t":"03:33","obs":2.045e-5,"loop":1.808e-5},
{"t":"03:34","obs":2.047e-5,"loop":1.81e-5,"run2":1.918e-5,"run1":1.925e-5,"run3":1.898e-5,"run4":1.87e-5},
{"t":"03:35","obs":2.04e-5,"loop":1.812e-5},
{"t":"03:36","obs":2.046e-5,"loop":1.814e-5,"run2":1.917e-5,"run1":1.924e-5,"run3":1.897e-5,"run4":1.87e-5},
{"t":"03:37","obs":2.042e-5,"loop":1.815e-5},
{"t":"03:38","obs":2.045e-5,"loop":1.816e-5,"run2":1.917e-5,"run1":1.924e-5,"run3":1.897e-5,"run4":1.87e-5},
{"t":"03:39","obs":2.043e-5,"loop":1.817e-5},
{"t":"03:40","obs":2.048e-5,"loop":1.818e-5,"run2":1.916e-5,"run1":1.924e-5,"run3":1.896e-5,"run4":1.87e-5},
{"t":"03:41","obs":2.045e-5,"loop":1.818e-5},
{"t":"03:42","obs":2.04e-5,"loop":1.819e-5,"run2":1.915e-5,"run1":1.924e-5,"run3":1.896e-5,"run4":1.871e-5},
{"t":"03:43","obs":2.046e-5,"loop":1.82e-5},
{"t":"03:44","obs":2.044e-5,"loop":1.82e-5,"run2":1.915e-5,"run1":1.923e-5,"run3":1.896e-5,"run4":1.871e-5},
{"t":"03:45","obs":2.048e-5,"loop":1.821e-5},
{"t":"03:46","obs":2.046e-5,"loop":1.821e-5,"run2":1.914e-5,"run1":1.923e-5,"run3":1.896e-5,"run4":1.872e-5},
{"t":"03:47","obs":2.05e-5,"loop":1.824e-5},
{"t":"03:48","obs":2.045e-5,"loop":1.828e-5,"run2":1.914e-5,"run1":1.923e-5,"run3":1.896e-5,"run4":1.873e-5},
{"t":"03:49","obs":2.048e-5,"loop":1.832e-5},
{"t":"03:50","obs":2.043e-5,"loop":1.836e-5,"run2":1.914e-5,"run1":1.923e-5,"run3":1.896e-5,"run4":1.873e-5},
{"t":"03:51","obs":2.047e-5,"loop":1.84e-5},
{"t":"03:52","obs":2.05e-5,"loop":1.848e-5},
{"t":"03:53","obs":2.045e-5,"loop":1.856e-5},
{"t":"03:54","obs":2.05e-5,"loop":1.865e-5},
{"t":"03:55","obs":2.052e-5,"loop":1.873e-5},
{"t":"03:56","obs":2.047e-5,"loop":1.876e-5},
{"t":"03:57","obs":2.045e-5,"loop":1.88e-5},
{"t":"03:58","obs":2.05e-5,"loop":1.884e-5},
{"t":"03:59","obs":2.046e-5,"loop":1.883e-5},
{"t":"04:00","obs":2.049e-5,"loop":1.882e-5}
 ]},
 "transform": [{"fold": ["obs", "loop", "run2", "run1", "run3", "run4"], "as": ["series", "v"]}, {"filter": {"field": "v", "valid": true}}],
 "layer": [
  {"mark": {"type": "line", "strokeWidth": 1.3, "clip": true},
   "encoding": {
    "x": {"field": "t", "type": "temporal", "scale": {"domain": [{"year":1900,"month":1,"date":1,"hours":1,"minutes":30,"seconds":30},{"year":1900,"month":1,"date":1,"hours":4,"minutes":0}], "nice": false},
      "axis": {"orient": "bottom", "values": [{"year":1900,"month":1,"date":1,"hours":2,"minutes":0},{"year":1900,"month":1,"date":1,"hours":2,"minutes":30},{"year":1900,"month":1,"date":1,"hours":3,"minutes":0},{"year":1900,"month":1,"date":1,"hours":3,"minutes":30}], "format": "%H:%M", "ticks": false, "labelPadding": 10, "title": "Start Time (15-Feb-11 01:30:30)", "titlePadding": 7}},
    "y": {"field": "v", "type": "quantitative", "scale": {"domain": [1.8e-5, 2.4e-5], "nice": false, "zero": false},
      "axis": {"orient": "left", "values": [1.9e-5, 2.0e-5, 2.1e-5, 2.2e-5, 2.3e-5, 2.4e-5], "labelExpr": "format(datum.value*100000, '.1f') + '×10⁻⁵'", "ticks": false, "labelPadding": 3, "labelFlush": true, "title": "Irradiance [W m⁻²]", "titleFontSize": 11, "titlePadding": 9}},
    "color": {"field": "series", "type": "nominal",
      "scale": {"domain": ["obs", "loop", "run2", "run1", "run3", "run4"], "range": ["#000000", "#000000", "#0000ff", "#33ee33", "#ffb020", "#ff2020"]},
      "legend": {"orient": "none", "legendX": 97, "legendY": 2, "title": null, "symbolType": "stroke", "symbolSize": 225, "symbolStrokeWidth": 1.5, "labelFontSize": 10.2, "labelOffset": 10, "rowPadding": 2.2, "padding": 0, "labelLimit": 300,
        "labelExpr": "datum.value == 'obs' ? 'EVE Fe XIV 211' : datum.value == 'loop' ? 'EVE 211 [Loop Emission Removed]' : datum.value == 'run2' ? 'Synthesized EVE 211 (Run2; 90)' : datum.value == 'run1' ? 'Synthesized EVE 211 (Run1; 128)' : datum.value == 'run3' ? 'Synthesized EVE 211 (Run3; 270)' : 'Synthesized EVE 211 (Run4; 308)'",
        "labelColor": {"expr": "datum.value == 'run2' ? '#0000ff' : datum.value == 'run1' ? '#33ee33' : datum.value == 'run3' ? '#ffb020' : datum.value == 'run4' ? '#ff2020' : '#000000'"}}},
    "strokeDash": {"field": "series", "type": "nominal",
      "scale": {"domain": ["obs", "loop", "run2", "run1", "run3", "run4"], "range": [[1, 0], [4, 3], [1, 0], [1, 0], [1, 0], [1, 0]]},
      "legend": {"orient": "none", "legendX": 97, "legendY": 2, "title": null, "symbolType": "stroke", "symbolSize": 225, "symbolStrokeWidth": 1.5, "labelFontSize": 10.2, "labelOffset": 10, "rowPadding": 2.2, "padding": 0, "labelLimit": 300,
        "labelExpr": "datum.value == 'obs' ? 'EVE Fe XIV 211' : datum.value == 'loop' ? 'EVE 211 [Loop Emission Removed]' : datum.value == 'run2' ? 'Synthesized EVE 211 (Run2; 90)' : datum.value == 'run1' ? 'Synthesized EVE 211 (Run1; 128)' : datum.value == 'run3' ? 'Synthesized EVE 211 (Run3; 270)' : 'Synthesized EVE 211 (Run4; 308)'",
        "labelColor": {"expr": "datum.value == 'run2' ? '#0000ff' : datum.value == 'run1' ? '#33ee33' : datum.value == 'run3' ? '#ffb020' : datum.value == 'run4' ? '#ff2020' : '#000000'"}}}
   }},
  {"mark": {"type": "point", "opacity": 0},
   "encoding": {
    "x": {"field": "t", "type": "temporal", "scale": {"domain": [{"year":1900,"month":1,"date":1,"hours":1,"minutes":30,"seconds":30},{"year":1900,"month":1,"date":1,"hours":4,"minutes":0}], "nice": false},
      "axis": {"orient": "bottom", "values": [{"year":1900,"month":1,"date":1,"hours":2,"minutes":0},{"year":1900,"month":1,"date":1,"hours":2,"minutes":30},{"year":1900,"month":1,"date":1,"hours":3,"minutes":0},{"year":1900,"month":1,"date":1,"hours":3,"minutes":30}], "labels": false, "domain": false, "tickSize": -6, "title": null}},
    "y": {"field": "v", "type": "quantitative", "scale": {"domain": [1.8e-5, 2.4e-5], "nice": false, "zero": false},
      "axis": {"orient": "left", "values": [1.9e-5, 2.0e-5, 2.1e-5, 2.2e-5, 2.3e-5], "labels": false, "domain": false, "tickSize": -6, "title": null}}
   }},
  {"mark": {"type": "point", "opacity": 0},
   "encoding": {
    "x": {"field": "t", "type": "temporal", "scale": {"domain": [{"year":1900,"month":1,"date":1,"hours":1,"minutes":30,"seconds":30},{"year":1900,"month":1,"date":1,"hours":4,"minutes":0}], "nice": false},
      "axis": {"orient": "bottom", "values": [{"year":1900,"month":1,"date":1,"hours":1,"minutes":40},{"year":1900,"month":1,"date":1,"hours":1,"minutes":50},{"year":1900,"month":1,"date":1,"hours":2,"minutes":10},{"year":1900,"month":1,"date":1,"hours":2,"minutes":20},{"year":1900,"month":1,"date":1,"hours":2,"minutes":40},{"year":1900,"month":1,"date":1,"hours":2,"minutes":50},{"year":1900,"month":1,"date":1,"hours":3,"minutes":10},{"year":1900,"month":1,"date":1,"hours":3,"minutes":20},{"year":1900,"month":1,"date":1,"hours":3,"minutes":40},{"year":1900,"month":1,"date":1,"hours":3,"minutes":50}], "labels": false, "domain": false, "tickSize": -3, "title": null}},
    "y": {"field": "v", "type": "quantitative", "scale": {"domain": [1.8e-5, 2.4e-5], "nice": false, "zero": false},
      "axis": {"orient": "left", "values": [1.81e-5,1.82e-5,1.83e-5,1.84e-5,1.85e-5,1.86e-5,1.87e-5,1.88e-5,1.89e-5,1.91e-5,1.92e-5,1.93e-5,1.94e-5,1.95e-5,1.96e-5,1.97e-5,1.98e-5,1.99e-5,2.01e-5,2.02e-5,2.03e-5,2.04e-5,2.05e-5,2.06e-5,2.07e-5,2.08e-5,2.09e-5,2.11e-5,2.12e-5,2.13e-5,2.14e-5,2.15e-5,2.16e-5,2.17e-5,2.18e-5,2.19e-5,2.21e-5,2.22e-5,2.23e-5,2.24e-5,2.25e-5,2.26e-5,2.27e-5,2.28e-5,2.29e-5,2.31e-5,2.32e-5,2.33e-5,2.34e-5,2.35e-5,2.36e-5,2.37e-5,2.38e-5,2.39e-5], "labels": false, "domain": false, "tickSize": -3, "title": null}}
   }},
  {"mark": {"type": "point", "opacity": 0},
   "encoding": {
    "x": {"field": "t", "type": "temporal", "scale": {"domain": [{"year":1900,"month":1,"date":1,"hours":1,"minutes":30,"seconds":30},{"year":1900,"month":1,"date":1,"hours":4,"minutes":0}], "nice": false},
      "axis": {"orient": "top", "values": [{"year":1900,"month":1,"date":1,"hours":2,"minutes":0},{"year":1900,"month":1,"date":1,"hours":2,"minutes":30},{"year":1900,"month":1,"date":1,"hours":3,"minutes":0},{"year":1900,"month":1,"date":1,"hours":3,"minutes":30}], "labels": false, "domain": true, "tickSize": -6, "title": null}},
    "y": {"field": "v", "type": "quantitative", "scale": {"domain": [1.8e-5, 2.4e-5], "nice": false, "zero": false},
      "axis": {"orient": "right", "values": [1.9e-5, 2.0e-5, 2.1e-5, 2.2e-5, 2.3e-5], "labels": false, "domain": true, "tickSize": -6, "title": null}}
   }},
  {"mark": {"type": "point", "opacity": 0},
   "encoding": {
    "x": {"field": "t", "type": "temporal", "scale": {"domain": [{"year":1900,"month":1,"date":1,"hours":1,"minutes":30,"seconds":30},{"year":1900,"month":1,"date":1,"hours":4,"minutes":0}], "nice": false},
      "axis": {"orient": "top", "values": [{"year":1900,"month":1,"date":1,"hours":1,"minutes":40},{"year":1900,"month":1,"date":1,"hours":1,"minutes":50},{"year":1900,"month":1,"date":1,"hours":2,"minutes":10},{"year":1900,"month":1,"date":1,"hours":2,"minutes":20},{"year":1900,"month":1,"date":1,"hours":2,"minutes":40},{"year":1900,"month":1,"date":1,"hours":2,"minutes":50},{"year":1900,"month":1,"date":1,"hours":3,"minutes":10},{"year":1900,"month":1,"date":1,"hours":3,"minutes":20},{"year":1900,"month":1,"date":1,"hours":3,"minutes":40},{"year":1900,"month":1,"date":1,"hours":3,"minutes":50}], "labels": false, "domain": false, "tickSize": -3, "title": null}},
    "y": {"field": "v", "type": "quantitative", "scale": {"domain": [1.8e-5, 2.4e-5], "nice": false, "zero": false},
      "axis": {"orient": "right", "values": [1.81e-5,1.82e-5,1.83e-5,1.84e-5,1.85e-5,1.86e-5,1.87e-5,1.88e-5,1.89e-5,1.91e-5,1.92e-5,1.93e-5,1.94e-5,1.95e-5,1.96e-5,1.97e-5,1.98e-5,1.99e-5,2.01e-5,2.02e-5,2.03e-5,2.04e-5,2.05e-5,2.06e-5,2.07e-5,2.08e-5,2.09e-5,2.11e-5,2.12e-5,2.13e-5,2.14e-5,2.15e-5,2.16e-5,2.17e-5,2.18e-5,2.19e-5,2.21e-5,2.22e-5,2.23e-5,2.24e-5,2.25e-5,2.26e-5,2.27e-5,2.28e-5,2.29e-5,2.31e-5,2.32e-5,2.33e-5,2.34e-5,2.35e-5,2.36e-5,2.37e-5,2.38e-5,2.39e-5], "labels": false, "domain": false, "tickSize": -3, "title": null}}
   }}
 ],
 "resolve": {"axis": {"x": "independent", "y": "independent"}}
}
],
"resolve": {"scale": {"color": "independent", "strokeDash": "independent", "x": "independent", "y": "independent"}, "legend": {"color": "independent", "strokeDash": "independent"}}
}
